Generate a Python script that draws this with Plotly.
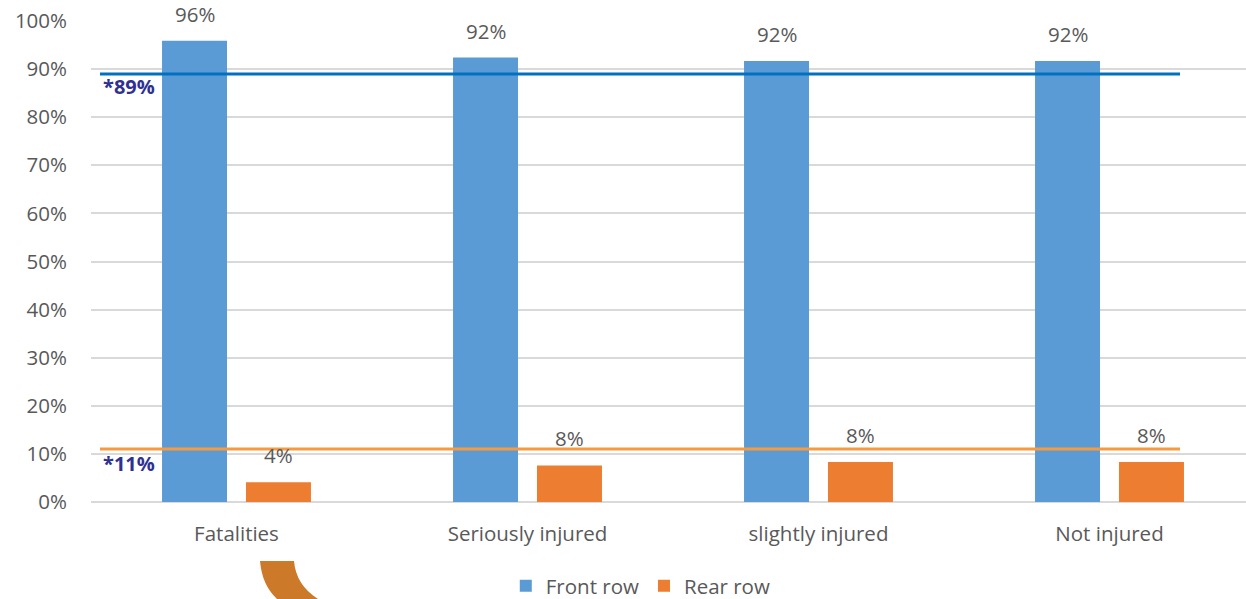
import plotly.graph_objects as go

# Share of occupants by seating row, per injury outcome (%)
categories = ["Fatalities", "Seriously injured", "slightly injured", "Not injured"]
front_row = [95.9, 92.4, 91.7, 91.7]
rear_row = [4.1, 7.6, 8.3, 8.3]

# Overall reference shares
front_avg = 89
rear_avg = 11

y_ticks = list(range(0, 101, 10))
y_tick_labels = [f"{v}%" for v in y_ticks]

FONT = "Open Sans"
FS = 20.5
GREY = "#595959"
BLUE_BAR = "#5B9BD5"
ORANGE_BAR = "#ED7D31"
BLUE_LINE = "#0070C0"
ORANGE_LINE = "#F79A3E"
NAVY = "#2E3192"

# plot area geometry in pixels
L, T, B = 91, 21, 97
W, H = 1246, 599
plot_w = W - L
plot_h = H - T - B


def px_x(px):
    return (px - L) / plot_w


def px_y(py):
    return (H - B - py) / plot_h


fig = go.Figure()
fig.add_trace(go.Bar(x=categories, y=front_row, name="Front row",
                     marker=dict(color=BLUE_BAR, line=dict(width=0))))
fig.add_trace(go.Bar(x=categories, y=rear_row, name="Rear row",
                     marker=dict(color=ORANGE_BAR, line=dict(width=0))))

annotations = []
for i, cat in enumerate(categories):
    for vals, shift in ((front_row, -42), (rear_row, 42)):
        annotations.append(dict(
            x=cat, y=vals[i], xref="x", yref="y", xshift=shift, yshift=11,
            text=f"{vals[i]:.0f}%", showarrow=False, yanchor="bottom",
            font=dict(family=FONT, size=FS, color=GREY)))

shapes = []
for val, color, label, dy in ((front_avg, BLUE_LINE, front_avg, -13),
                              (rear_avg, ORANGE_LINE, rear_avg, -14)):
    shapes.append(dict(type="line", xref="paper", yref="y",
                       x0=px_x(100), x1=px_x(1180), y0=val, y1=val,
                       line=dict(color=color, width=3)))
    annotations.append(dict(
        x=px_x(101), y=val, xref="paper", yref="y", yshift=dy,
        text=f"<b>*{label}%</b>", showarrow=False, xanchor="left",
        yanchor="middle", font=dict(family=FONT, size=20, color=NAVY)))

# curved brown band below the first category
x = [px_x(v) for v in (260, 294, 296, 318, 277, 262)]
y = [px_y(v) for v in (561, 561, 585, 599, 599, 585)]
band = (f"M {x[0]},{y[0]} L {x[1]},{y[1]} Q {x[2]},{y[2]} {x[3]},{y[3]} "
        f"L {x[4]},{y[4]} Q {x[5]},{y[5]} {x[0]},{y[0]} Z")
shapes.append(dict(type="path", xref="paper", yref="paper", path=band,
                   fillcolor="#CC7A2A", line=dict(width=0)))

fig.update_layout(
    width=W, height=H,
    margin=dict(l=L, r=0, t=T, b=B, autoexpand=False),
    paper_bgcolor="white", plot_bgcolor="white",
    barmode="group", bargap=0.423, bargroupgap=0.226,
    font=dict(family=FONT, size=FS, color=GREY),
    showlegend=True,
    legend=dict(orientation="h", x=0.476, xanchor="center",
                yref="container", y=(H - 586) / H, yanchor="middle",
                font=dict(family=FONT, size=FS, color=GREY),
                itemwidth=30, tracegroupgap=0),
    annotations=annotations,
    shapes=shapes,
)
fig.update_xaxes(range=[-0.5, -0.5 + plot_w / 291], showgrid=False,
                 showline=False, zeroline=False, ticks="",
                 ticklabelstandoff=17, tickfont=dict(size=FS, color=GREY))
fig.update_yaxes(range=[0, 100], tickvals=y_ticks, ticktext=y_tick_labels,
                 showgrid=True, gridcolor="#D9D9D9", gridwidth=2,
                 zeroline=True, zerolinecolor="#D9D9D9", zerolinewidth=2,
                 showline=False, ticks="", ticklabelstandoff=23,
                 tickfont=dict(size=FS, color=GREY))

fig.write_html("out.html")
